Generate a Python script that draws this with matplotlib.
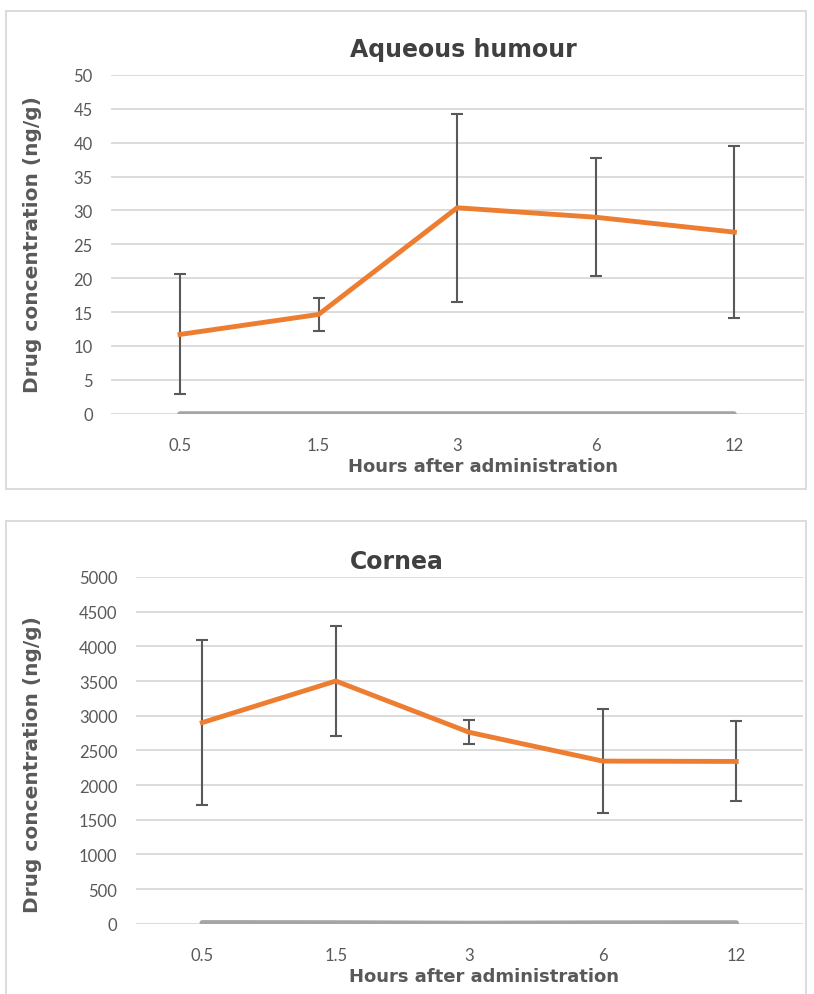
import matplotlib
matplotlib.use("Agg")
import matplotlib.pyplot as plt
from matplotlib.patches import Rectangle

# data
hours = ["0.5", "1.5", "3", "6", "12"]

aqueous_mean = [11.7, 14.65, 30.4, 29.0, 26.8]
aqueous_err = [8.85, 2.45, 13.9, 8.7, 12.7]
aqueous_base = [0, 0, 0, 0, 0]

cornea_mean = [2900, 3500, 2760, 2345, 2340]
cornea_err = [1195, 800, 175, 745, 577]
cornea_base = [12, 10, 3, 8, 10]

ORANGE = "#ED7D31"
GREY_ERR = "#595959"
GRID = "#D9D9D9"
BASE = "#A5A5A5"
TEXT = "#595959"

W, H = 814, 995
fig = plt.figure(figsize=(W / 100, H / 100), dpi=100)

def fx(px):
    return px / W

def fy(px):
    return 1 - px / H

def draw_panel(rect, means, errs, base, ymax, step, title, title_xy, ylab_xy, xlab_xy):
    ax = fig.add_axes(rect)
    x = list(range(len(hours)))
    ax.plot(x, base, color=BASE, lw=4, solid_capstyle="round", zorder=2)
    ax.errorbar(x, means, yerr=errs, fmt="none", ecolor=GREY_ERR, elinewidth=1.5,
                capsize=4, capthick=1.5, zorder=3)
    ax.plot(x, means, color=ORANGE, lw=3.5, zorder=4)
    ax.set_xlim(-0.5, len(hours) - 0.5)
    ax.set_ylim(0, ymax)
    ax.set_yticks(range(0, ymax + 1, step))
    ax.set_xticks(x)
    ax.set_xticklabels(hours)
    ax.grid(axis="y", color=GRID, lw=1.3, zorder=0)
    for s in ax.spines.values():
        s.set_visible(False)
    ax.tick_params(length=0, labelcolor=TEXT, labelsize=12)
    ax.tick_params(axis="y", pad=13)
    ax.tick_params(axis="x", pad=17)
    for lab in ax.get_xticklabels() + ax.get_yticklabels():
        lab.set_family(["Lato", "DejaVu Sans"])
    fig.text(fx(title_xy[0]), fy(title_xy[1]), title, ha="center", va="center",
             fontsize=17, fontweight="bold", color="#404040",
             family=["DejaVu Sans"])
    fig.text(fx(ylab_xy[0]), fy(ylab_xy[1]), "Drug concentration (ng/g)", rotation=90,
             ha="center", va="center", fontsize=14.5, fontweight="bold", color=TEXT,
             family=["DejaVu Sans"])
    fig.text(fx(xlab_xy[0]), fy(xlab_xy[1]), "Hours after administration", ha="center",
             va="center", fontsize=13, fontweight="bold", color=TEXT,
             family=["DejaVu Sans"])
    return ax

# panel borders
fig.patches.append(Rectangle((fx(6), fy(490)), fx(806) - fx(6), fy(12) - fy(490),
                             transform=fig.transFigure, fill=False, ec=GRID, lw=1.3))
fig.patches.append(Rectangle((fx(6), fy(1020)), fx(806) - fx(6), fy(522) - fy(1020),
                             transform=fig.transFigure, fill=False, ec=GRID, lw=1.3))

draw_panel([fx(110.7), fy(414.7), fx(803.7) - fx(110.7), fy(76) - fy(414.7)],
           aqueous_mean, aqueous_err, aqueous_base, 50, 5,
           "Aqueous humour", (463, 50), (33, 245), (483, 467))
draw_panel([fx(135.5), fy(924.7), fx(803) - fx(135.5), fy(578) - fy(924.7)],
           cornea_mean, cornea_err, cornea_base, 5000, 500,
           "Cornea", (397, 562), (33, 765), (484, 977))

fig.savefig("out.png", dpi=100, facecolor="white")
